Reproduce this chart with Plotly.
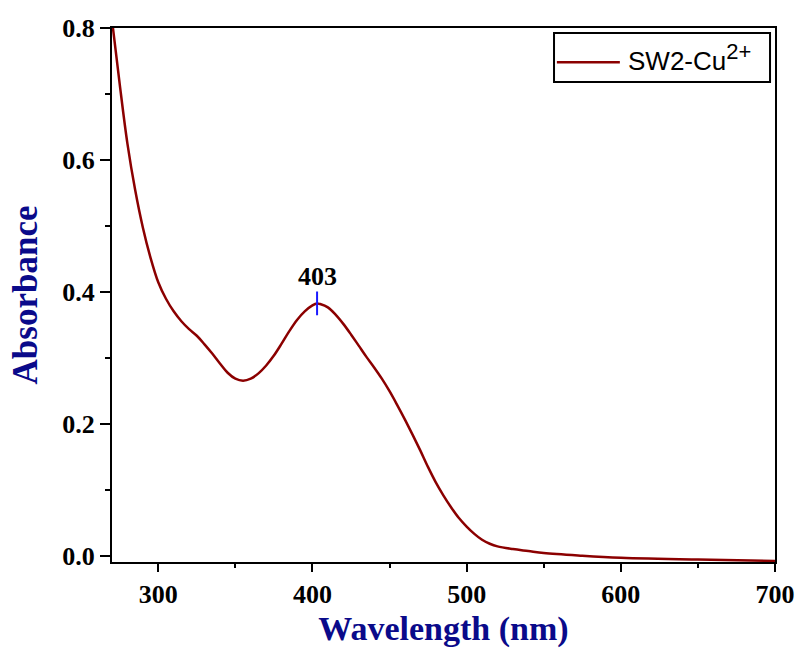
import plotly.graph_objects as go

# UV-Vis absorption spectrum of SW2 with Cu2+
wavelength = [270, 275, 280, 285, 290, 295, 300, 305, 310, 315,
              320, 325, 330, 335, 340, 345, 350, 355, 360, 365,
              370, 375, 380, 385, 390, 395, 400, 403, 405, 410,
              415, 420, 425, 430, 435, 440, 445, 450, 455, 460,
              465, 470, 475, 480, 485, 490, 495, 500, 505, 510,
              515, 520, 530, 540, 550, 575, 600, 650, 700]
absorbance = [0.812, 0.715, 0.625, 0.555, 0.498, 0.452, 0.415, 0.390, 0.371, 0.356,
              0.344, 0.334, 0.321, 0.307, 0.292, 0.278, 0.269, 0.266, 0.269, 0.277,
              0.289, 0.304, 0.322, 0.341, 0.358, 0.371, 0.380, 0.383, 0.382, 0.377,
              0.366, 0.352, 0.336, 0.319, 0.302, 0.286, 0.269, 0.250, 0.229, 0.207,
              0.184, 0.160, 0.135, 0.112, 0.092, 0.074, 0.058, 0.045, 0.034, 0.025,
              0.019, 0.015, 0.011, 0.008, 0.005, 0.001, -0.002, -0.005, -0.007]

series_label = "SW2-Cu<sup><span style='font-size:22px'>2+</span></sup>"
peak_wavelength = 403
peak_absorbance = 0.383

x_ticks = [300, 400, 500, 600, 700]
y_ticks = [0.0, 0.2, 0.4, 0.6, 0.8]

serif = "Liberation Serif"
navy = "#0a0a8a"
curve_color = "#8b0000"

fig = go.Figure()
fig.add_trace(go.Scatter(
    x=wavelength, y=absorbance, mode="lines", name="SW2-Cu2+",
    line=dict(color=curve_color, width=2.5, shape="spline", smoothing=1.0),
    showlegend=False,
))

# peak marker and label
fig.add_shape(type="line", x0=peak_wavelength, x1=peak_wavelength,
              y0=peak_absorbance - 0.018, y1=peak_absorbance + 0.018,
              line=dict(color="#1a1aff", width=2))
fig.add_annotation(x=peak_wavelength, y=peak_absorbance + 0.018,
                   text=f"<b>{peak_wavelength}</b>", showarrow=False,
                   yanchor="bottom", yshift=-1,
                   font=dict(family=serif, size=26, color="black"))

# legend box in the upper right corner
fig.add_shape(type="rect", xref="paper", yref="paper",
              x0=0.6667, x1=0.9925, y0=0.899, y1=0.9906,
              line=dict(color="black", width=2), fillcolor="white", layer="above")
fig.add_shape(type="line", xref="paper", yref="paper",
              x0=0.671, x1=0.766, y0=0.9357, y1=0.9357,
              line=dict(color=curve_color, width=2.5), layer="above")
fig.add_annotation(xref="paper", yref="paper", x=0.776, y=0.944,
                   xanchor="left", yanchor="middle", showarrow=False,
                   text=series_label,
                   font=dict(family="Liberation Sans", size=26, color="black"))

axis_common = dict(showline=True, linecolor="black", linewidth=2, mirror=True,
                   ticks="outside", tickcolor="black", tickwidth=2,
                   showgrid=False, zeroline=False, automargin=False,
                   tickfont=dict(family=serif, size=26, color="black", weight="bold"))

fig.update_xaxes(range=[270, 700], tickvals=x_ticks, ticklen=8,
                 minor=dict(ticks="outside", ticklen=4, dtick=50, tickcolor="black", tickwidth=2),
                 title=dict(text="<b>Wavelength (nm)</b>", standoff=8,
                            font=dict(family=serif, size=34, color=navy)),
                 **axis_common)
fig.update_yaxes(range=[-0.0086, 0.8], tickvals=y_ticks, tickformat=".1f", ticklen=10,
                 minor=dict(ticks="outside", ticklen=5, dtick=0.1, tickcolor="black", tickwidth=2),
                 title=dict(text="<b>Absorbance</b>", standoff=14,
                            font=dict(family=serif, size=35, color=navy)),
                 **axis_common)

fig.update_layout(
    width=800, height=648,
    margin=dict(l=112, r=25, t=28, b=86),
    plot_bgcolor="white", paper_bgcolor="white",
    showlegend=False,
)

fig.write_html("out.html")
